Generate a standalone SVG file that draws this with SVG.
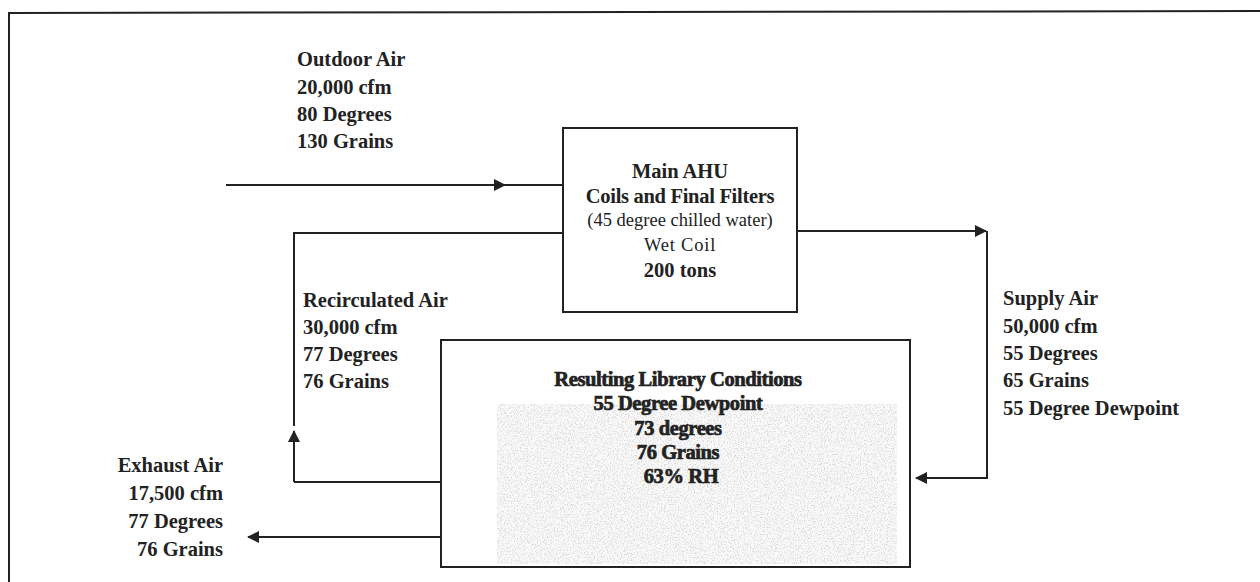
<svg xmlns="http://www.w3.org/2000/svg" width="1260" height="582" viewBox="0 0 1260 582">
<defs>
<style>
.b{font-family:"Liberation Serif","Times New Roman",serif;font-weight:bold;font-size:20.5px;fill:#222}
.r{font-family:"Liberation Serif","Times New Roman",serif;font-size:18.5px;fill:#222}
.c{text-anchor:middle}
.e{text-anchor:end}
.box{fill:none;stroke:#222;stroke-width:2}
.ln{fill:none;stroke:#222;stroke-width:2}
.lib{stroke:#222;stroke-width:0.7}
</style>
<marker id="ah" viewBox="0 0 12 12" refX="11" refY="6" markerWidth="12" markerHeight="12" markerUnits="userSpaceOnUse" orient="auto">
<path d="M0,0 L12,6 L0,12 z" fill="#222"/>
</marker>
<filter id="noise" x="0" y="0" width="1" height="1">
<feTurbulence type="fractalNoise" baseFrequency="0.7" numOctaves="2" seed="3" result="t"/>
<feColorMatrix in="t" type="matrix" values="0 0 0 0 0.7  0 0 0 0 0.7  0 0 0 0 0.7  0 0 0 -4 2.1" result="n"/>
<feComposite in="n" in2="SourceGraphic" operator="in"/>
</filter>
</defs>
<rect width="1260" height="582" fill="#fff"/>
<g id="frame">
<path d="M9,582 L9,13 L1260,11" class="ln"/>
</g>
<g id="connectors">
<path d="M226,185 L505,185" class="ln" marker-end="url(#ah)"/>
<path d="M505,185 L563,185" class="ln"/>
<path d="M563,233 L294,233 L294,426" class="ln"/>
<path d="M294,482 L294,431" class="ln" stroke-width="1.5" marker-end="url(#ah)"/>
<path d="M294,482 L441,482" class="ln"/>
<path d="M441,537 L248,537" class="ln" marker-end="url(#ah)"/>
<path d="M797,231 L986,231" class="ln" marker-end="url(#ah)"/>
<path d="M987,231 L987,478 L916,478" class="ln" marker-end="url(#ah)"/>
</g>
<g id="outdoor-air">
<text class="b" x="297" y="66">Outdoor Air</text>
<text class="b" x="297" y="94">20,000 cfm</text>
<text class="b" x="297" y="121">80 Degrees</text>
<text class="b" x="297" y="148">130 Grains</text>
</g>
<g id="main-ahu">
<rect x="563" y="128" width="234" height="184" class="box"/>
<text class="b c" x="680" y="178" font-size="21">Main AHU</text>
<text class="b c" x="680" y="203" font-size="18" letter-spacing="-0.3">Coils and Final Filters</text>
<text class="r c" x="680" y="226">(45 degree chilled water)</text>
<text class="r c" x="680" y="251" letter-spacing="0.8">Wet Coil</text>
<text class="b c" x="680" y="277" font-size="21">200 tons</text>
</g>
<g id="recirculated-air">
<text class="b" x="303" y="307">Recirculated Air</text>
<text class="b" x="303" y="334">30,000 cfm</text>
<text class="b" x="303" y="361">77 Degrees</text>
<text class="b" x="303" y="388">76 Grains</text>
</g>
<g id="supply-air">
<text class="b" x="1003" y="305">Supply Air</text>
<text class="b" x="1003" y="333">50,000 cfm</text>
<text class="b" x="1003" y="360">55 Degrees</text>
<text class="b" x="1003" y="387">65 Grains</text>
<text class="b" x="1003" y="415">55 Degree Dewpoint</text>
</g>
<g id="exhaust-air">
<text class="b e" x="223" y="472">Exhaust Air</text>
<text class="b e" x="223" y="500">17,500 cfm</text>
<text class="b e" x="223" y="528">77 Degrees</text>
<text class="b e" x="223" y="556">76 Grains</text>
</g>
<g id="library">
<rect x="441" y="340" width="469" height="227" class="box"/>
<rect x="497" y="404" width="400" height="160" fill="#fafafa"/>
<rect x="497" y="404" width="400" height="160" fill="#fff" filter="url(#noise)"/>
<text class="b c lib" x="678" y="386" font-size="20" letter-spacing="-0.4">Resulting Library Conditions</text>
<text class="b c lib" x="678" y="410" font-size="20" letter-spacing="-0.4">55 Degree Dewpoint</text>
<text class="b c lib" x="678" y="435" font-size="20" letter-spacing="-0.4">73 degrees</text>
<text class="b c lib" x="678" y="459" font-size="20" letter-spacing="-0.4">76 Grains</text>
<text class="b c lib" x="681" y="483" font-size="20" letter-spacing="-0.4">63% RH</text>
</g>
</svg>
